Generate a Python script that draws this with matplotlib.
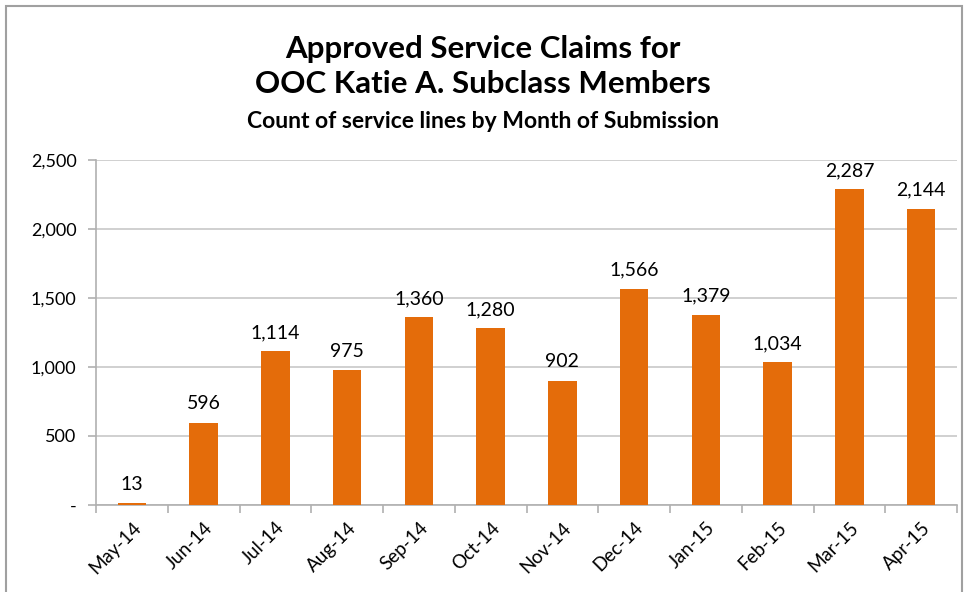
import numpy as np
import matplotlib.pyplot as plt
from matplotlib.ticker import FuncFormatter, FixedLocator
from matplotlib.patches import Rectangle

months = ['May-14', 'Jun-14', 'Jul-14', 'Aug-14', 'Sep-14', 'Oct-14',
          'Nov-14', 'Dec-14', 'Jan-15', 'Feb-15', 'Mar-15', 'Apr-15']
claims = [13, 596, 1114, 975, 1360, 1280, 902, 1566, 1379, 1034, 2287, 2144]

plt.rcParams['font.family'] = ['Lato', 'DejaVu Sans']
bar_col = '#E46C0A'
grey = '#B0B0B0'

fig = plt.figure(figsize=(9.66, 5.92), dpi=100)
ax = fig.add_axes([0.0994, 0.147, 0.8913, 0.5827])

x = np.arange(len(months))
ax.bar(x, claims, width=0.4, color=bar_col, zorder=3)
for xi, v in zip(x, claims):
    ax.text(xi, v + 75, '{:,}'.format(v), ha='center', va='bottom', fontsize=14)

ax.set_xlim(-0.5, len(months) - 0.5)
ax.set_ylim(0, 2500)
ax.set_yticks(np.arange(0, 2501, 500))
ax.yaxis.set_major_formatter(FuncFormatter(lambda v, p: '-' if v == 0 else '{:,.0f}'.format(v)))
ax.yaxis.grid(True, color='#C8C8C8', linewidth=1.2, zorder=0)

ax.set_xticks(x)
ax.set_xticklabels(months, rotation=45, ha='right', rotation_mode='anchor')
ax.xaxis.set_minor_locator(FixedLocator(np.arange(-0.5, len(months), 1.0)))
ax.tick_params(axis='x', which='major', length=0, pad=10, labelsize=13.5)
ax.tick_params(axis='x', which='minor', length=6, color=grey, width=1.2)
ax.tick_params(axis='y', length=6, color=grey, width=1.2, labelsize=13, pad=8)

for s in ['top', 'right']:
    ax.spines[s].set_visible(False)
for s in ['left', 'bottom']:
    ax.spines[s].set_color(grey)
    ax.spines[s].set_linewidth(1.2)

fig.text(0.5, 0.918, 'Approved Service Claims for', ha='center', va='center',
         fontsize=22.5, fontweight='bold')
fig.text(0.5, 0.858, 'OOC Katie A. Subclass Members', ha='center', va='center',
         fontsize=22.5, fontweight='bold')
fig.text(0.5, 0.795, 'Count of service lines by Month of Submission', ha='center',
         va='center', fontsize=16.5, fontweight='bold')

fig.patches.append(Rectangle((0.006, -0.01), 0.99, 1.0, transform=fig.transFigure,
                             fill=False, edgecolor='#A0A0A0', linewidth=1.5))

fig.savefig('out.png', dpi=100)
